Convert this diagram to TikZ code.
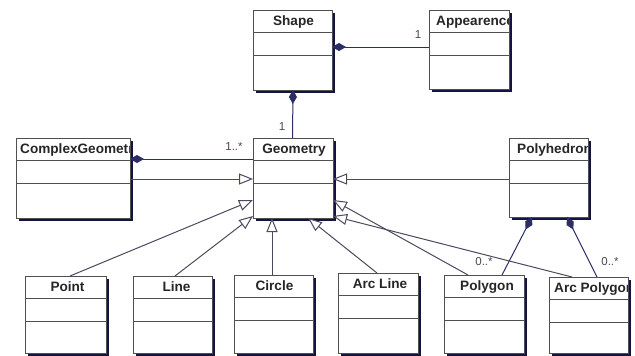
\documentclass[tikz,border=0pt]{standalone}
\usepackage{fontspec}
\setmainfont{Liberation Sans}
\usetikzlibrary{arrows.meta,shadows}
\definecolor{boxgray}{HTML}{505050}
\definecolor{shadownavy}{HTML}{14143E}
\definecolor{gencol}{HTML}{4A4A5E}
\definecolor{compcol}{HTML}{2D2D66}
\definecolor{multcol}{HTML}{4A4A4A}
\tikzset{
  umlbox/.style={draw=boxgray, fill=white, line width=1pt, inner sep=0pt, outer sep=0pt,
    general shadow={fill=shadownavy, shadow xshift=3pt, shadow yshift=-3pt}},
  sepline/.style={draw=boxgray, line width=1pt},
  titletext/.style={inner sep=0pt, font=\bfseries\fontsize{13.6}{15}\selectfont, text=black!85},
  mult/.style={inner sep=0pt, font=\fontsize{11.5}{13}\selectfont, text=multcol},
  gen/.style={draw=gencol, line width=1pt, -{Triangle[length=14pt,width=11pt,fill=white]}},
  comp/.style={draw=compcol, line width=1pt, {Diamond[length=14pt,width=8pt,fill=compcol]}-}
}
\newcommand\umlclass[7]{%
  \node[umlbox, minimum width=#4pt, minimum height=#5pt, anchor=north west] (#1) at (#2,#3) {};
  \draw[sepline] ([yshift=-22pt]#1.north west) -- ([yshift=-22pt]#1.north east);
  \draw[sepline] ([yshift=-45pt]#1.north west) -- ([yshift=-45pt]#1.north east);
  \begin{scope}
    \clip ([xshift=0.5pt,yshift=-0.5pt]#1.north west) rectangle ([xshift=-0.5pt,yshift=-22pt]#1.north east);
    \node[titletext, anchor=base, #7] (#1-title) at ([yshift=-15pt]#1.north) {#6};
  \end{scope}
}
\begin{document}
\begin{tikzpicture}[x=1pt,y=-1pt]
\fill[white] (0,0) rectangle (635,356);
\useasboundingbox (0,0) rectangle (635,356);
% classes
\umlclass{Shape}{253}{10}{79}{80}{Shape}{xshift=1pt}
\umlclass{Appearence}{429}{10}{80}{79}{Appearence}{anchor=base west, xshift=-33pt}
\umlclass{CG}{16}{138}{114}{80}{ComplexGeometry}{anchor=base west, xshift=-53pt}
\umlclass{Geometry}{253}{138}{80}{80}{Geometry}{xshift=1pt}
\umlclass{Polyhedron}{509}{138}{79}{79}{Polyhedron}{anchor=base west, xshift=-31.5pt}
\umlclass{Point}{25}{276}{81}{77}{Point}{xshift=2pt}
\umlclass{Line}{133}{276}{79}{77}{Line}{xshift=4pt}
\umlclass{Circle}{234}{275}{79}{78}{Circle}{xshift=1pt}
\umlclass{ArcLine}{338}{273}{80}{80}{Arc Line}{xshift=2pt}
\umlclass{Polygon}{444}{275}{80}{78}{Polygon}{xshift=3pt}
\umlclass{ArcPolygon}{549}{277}{79}{76}{Arc Polygon}{anchor=base west, xshift=-34.5pt}
% compositions
\draw[comp] ([yshift=-37pt]Shape.north east) -- ([yshift=-37pt]Appearence.north west);
\draw[comp] ([xshift=0.5pt]Shape.south) -- ([xshift=-0.5pt]Geometry.north);
\draw[comp] ([yshift=-21pt]CG.north east) -- ([yshift=-21pt]Geometry.north west);
\draw[comp] ([xshift=23pt]Polyhedron.south west) -- ([xshift=58pt]Polygon.north west);
\draw[comp] ([xshift=58pt]Polyhedron.south west) -- ([xshift=48pt]ArcPolygon.north west);
% generalizations
\draw[gen] ([yshift=-41pt]CG.north east) -- ([yshift=-41pt]Geometry.north west);
\draw[gen] ([yshift=-41pt]Polyhedron.north west) -- ([yshift=-41pt]Geometry.north east);
\draw[gen] ([xshift=45pt]Point.north west) -- ([yshift=-62pt]Geometry.north west);
\draw[gen] ([xshift=42pt]Line.north west) -- ([yshift=2pt]Geometry.south west);
\draw[gen] ([xshift=38pt]Circle.north west) -- ([xshift=19pt]Geometry.south west);
\draw[gen] ([xshift=39pt]ArcLine.north west) -- ([xshift=-25pt]Geometry.south east);
\draw[gen] ([xshift=24pt]Polygon.north west) -- ([yshift=-62pt]Geometry.north east);
\draw[gen] ([xshift=23pt]ArcPolygon.north west) -- ([yshift=2pt]Geometry.south east);
% multiplicities
\node[mult] (m1) at (418,35) {1};
\node[mult] (m2) at (282,127) {1};
\node[mult] (m3) at (234,147) {1..*};
\node[mult] (m4) at (484,262) {0..*};
\node[mult] (m5) at (610,262) {0..*};
\end{tikzpicture}
\end{document}
